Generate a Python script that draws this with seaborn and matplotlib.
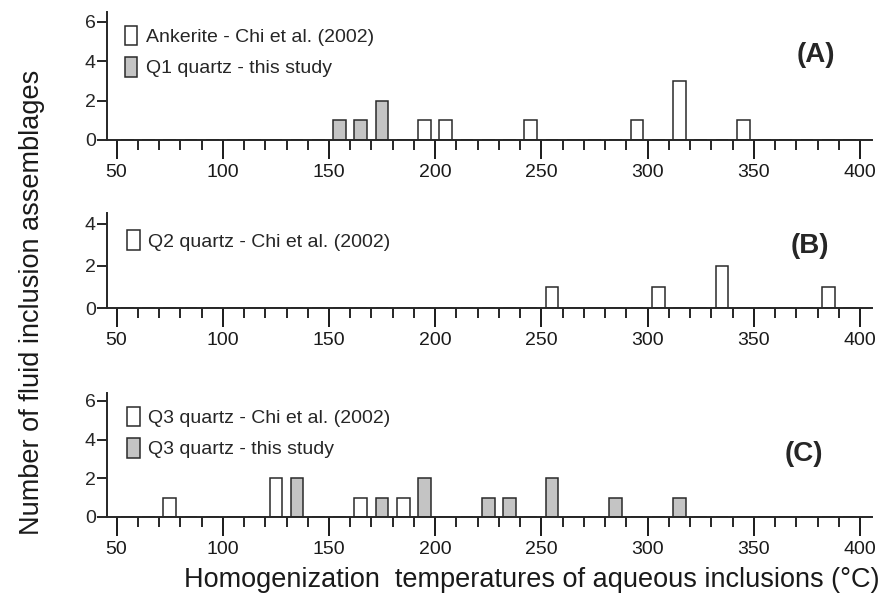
import numpy as np
import pandas as pd
import seaborn as sns
import matplotlib.pyplot as plt
from matplotlib.patches import Patch
from matplotlib.ticker import MultipleLocator

# ------------- Datos -------------
# (A) Ankerite (Chi et al. 2002) y Q1 quartz (este estudio)
a_ank_temp = [195, 205, 245, 295, 315, 345]
a_ank_n = [1, 1, 1, 1, 3, 1]
a_q1_temp = [155, 165, 175]
a_q1_n = [1, 1, 2]

# (B) Q2 quartz (Chi et al. 2002)
b_q2_temp = [255, 305, 335, 385]
b_q2_n = [1, 1, 2, 1]

# (C) Q3 quartz (Chi et al. 2002) y Q3 quartz (este estudio)
c_chi_temp = [75, 125, 165, 185]
c_chi_n = [1, 2, 1, 1]
c_this_temp = [135, 175, 195, 225, 235, 255, 285, 315]
c_this_n = [2, 1, 2, 1, 1, 2, 1, 1]

edge = "#2a2a2a"
gris = "#c4c4c4"

sns.set_style("ticks")
plt.rcParams["font.family"] = ["Liberation Sans", "DejaVu Sans"]
plt.rcParams["axes.linewidth"] = 1.4

fig = plt.figure(figsize=(8.8, 5.99), dpi=100)
left, width = 0.1216, 0.869
ax_a = fig.add_axes([left, 0.7663, width, 0.2137])
ax_b = fig.add_axes([left, 0.4858, width, 0.1586])
ax_c = fig.add_axes([left, 0.1369, width, 0.2070])


def barras(ax, temps, counts, color):
    sns.histplot(x=temps, weights=counts, binwidth=10, binrange=(50, 400),
                 shrink=0.6, color=color, alpha=1, edgecolor=edge,
                 linewidth=1.1, ax=ax)


def estilo(ax, ymax, yticks):
    ax.set_xlim(45.5, 405.5)
    ax.set_ylim(0, ymax)
    ax.set_yticks(yticks)
    ax.xaxis.set_major_locator(MultipleLocator(50))
    ax.xaxis.set_minor_locator(MultipleLocator(10))
    ax.tick_params(axis="x", which="major", length=14, width=1.4,
                   labelsize=14, pad=3, colors="#1a1a1a")
    ax.tick_params(axis="x", which="minor", length=7, width=1.4)
    ax.tick_params(axis="y", length=7, width=1.4, labelsize=14, pad=1)
    ax.set_xlabel("")
    ax.set_ylabel("")
    sns.despine(ax=ax)


def leyenda(ax, etiquetas, colores, x0, y0):
    handles = [Patch(facecolor=c, edgecolor=edge, linewidth=1.1) for c in colores]
    ax.legend(handles, etiquetas, loc="upper left", bbox_to_anchor=(x0, y0),
              frameon=False, fontsize=14, handlelength=0.65, handleheight=1.2,
              handletextpad=0.45, labelspacing=0.55, borderaxespad=0.2)


# Panel A
barras(ax_a, a_ank_temp, a_ank_n, "white")
barras(ax_a, a_q1_temp, a_q1_n, gris)
estilo(ax_a, 6.5, [0, 2, 4, 6])
leyenda(ax_a, ["Ankerite - Chi et al. (2002)", "Q1 quartz - this study"],
        ["white", gris], 0.008, 0.985)
ax_a.text(0.927, 0.664, "(A)", transform=ax_a.transAxes, fontsize=20,
          fontweight="bold", ha="center", va="center")

# Panel B
barras(ax_b, b_q2_temp, b_q2_n, "white")
estilo(ax_b, 4.5, [0, 2, 4])
leyenda(ax_b, ["Q2 quartz - Chi et al. (2002)"], ["white"], 0.011, 0.94)
ax_b.text(0.919, 0.653, "(B)", transform=ax_b.transAxes, fontsize=20,
          fontweight="bold", ha="center", va="center")

# Panel C
barras(ax_c, c_chi_temp, c_chi_n, "white")
barras(ax_c, c_this_temp, c_this_n, gris)
estilo(ax_c, 6.4, [0, 2, 4, 6])
leyenda(ax_c, ["Q3 quartz - Chi et al. (2002)", "Q3 quartz - this study"],
        ["white", gris], 0.011, 0.985)
ax_c.text(0.911, 0.508, "(C)", transform=ax_c.transAxes, fontsize=20,
          fontweight="bold", ha="center", va="center")

fig.text(0.036, 0.496, "Number of fluid inclusion assemblages", rotation=90,
         fontsize=19.5, ha="center", va="center", color="#1a1a1a")
fig.text(0.604, 0.031, "Homogenization  temperatures of aqueous inclusions (°C)",
         fontsize=19.5, ha="center", va="center", color="#1a1a1a")

plt.savefig("out.png", dpi=100)
